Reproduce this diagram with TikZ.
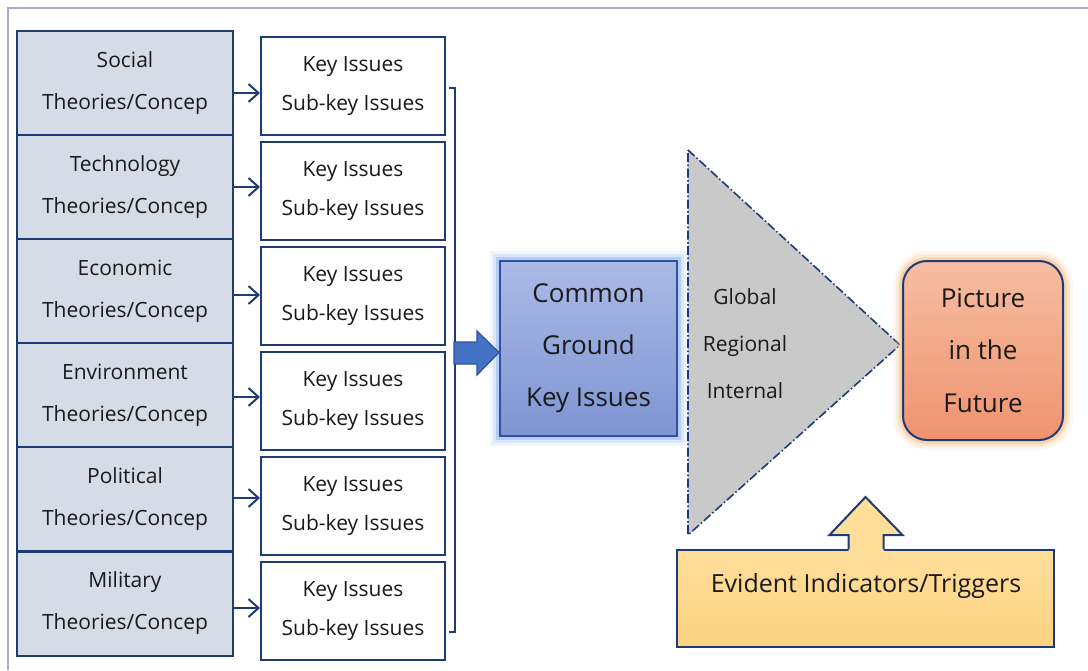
\documentclass[tikz,border=0pt]{standalone}
\usepackage{fontspec}
\setmainfont{Open Sans}
\usetikzlibrary{arrows.meta}
\definecolor{navy}{HTML}{1F3B76}
\definecolor{txt}{HTML}{1A1A1A}
\definecolor{theoryfill}{HTML}{D6DCE5}
\definecolor{frame}{HTML}{B7A3CF}
\definecolor{cgtop}{HTML}{ABBAE6}
\definecolor{cgbot}{HTML}{7E95D3}
\definecolor{cgborder}{HTML}{2F52A0}
\definecolor{cgglow}{HTML}{8FAEF5}
\definecolor{pictop}{HTML}{F7BDA2}
\definecolor{picbot}{HTML}{EF936F}
\definecolor{picglow}{HTML}{F9BC80}
\definecolor{evtop}{HTML}{FFDE9A}
\definecolor{evbot}{HTML}{FDD282}
\definecolor{trifill}{HTML}{C9C9C9}
\definecolor{bigarrow}{HTML}{4472C4}
\begin{document}
\begin{tikzpicture}[x=1pt,y=-1pt,
  theory/.style={draw=navy, line width=2pt, fill=theoryfill, minimum width=216pt,
    minimum height=104pt, inner sep=0pt, align=center, text=txt,
    font=\fontsize{21}{42}\selectfont},
  keybox/.style={draw=navy, line width=2pt, fill=white, minimum width=184pt,
    minimum height=98pt, inner sep=0pt, align=center, text=txt,
    font=\fontsize{21}{39}\selectfont},
  arr/.style={draw=navy, line width=2pt, -{Straight Barb[length=10pt,width=18pt,line width=2pt]}},
  cgbox/.style={draw=cgborder, line width=2pt, top color=cgtop, bottom color=cgbot,
    minimum width=177pt, minimum height=175pt, inner sep=0pt, align=center, text=txt,
    font=\fontsize{26}{52}\selectfont,
    preaction={draw=cgglow, line width=20pt, opacity=0.12},
    preaction={draw=cgglow, line width=14pt, opacity=0.22},
    preaction={draw=cgglow, line width=8pt, opacity=0.45}},
  picbox/.style={draw=navy, line width=2pt, top color=pictop, bottom color=picbot,
    rounded corners=24pt, minimum width=160pt, minimum height=179pt, inner sep=0pt,
    align=center, text=txt, font=\fontsize{26}{52.5}\selectfont,
    preaction={draw=picglow, line width=20pt, opacity=0.12},
    preaction={draw=picglow, line width=14pt, opacity=0.22},
    preaction={draw=picglow, line width=8pt, opacity=0.45}},
  tritext/.style={align=center, text=txt, font=\fontsize{21}{47}\selectfont},
]
\useasboundingbox (0,0) rectangle (1088,670);
\fill[white] (0,0) rectangle (1088,670);
% outer frame
\draw[frame, line width=2pt] (8,670) -- (8,8) -- (1088,8);

% theory boxes
\node[theory] (L1) at (125,83)    {Social\\Theories/Concep};
\node[theory] (L2) at (125,187)   {Technology\\Theories/Concep};
\node[theory] (L3) at (125,291)   {Economic\\Theories/Concep};
\node[theory] (L4) at (125,395)   {Environment\\Theories/Concep};
\node[theory] (L5) at (125,499)   {Political\\Theories/Concep};
\node[theory] (L6) at (125,603.5) {Military\\Theories/Concep};

% key issue boxes
\node[keybox] (K1) at (353,86)  {Key Issues\\Sub-key Issues};
\node[keybox] (K2) at (353,191) {Key Issues\\Sub-key Issues};
\node[keybox] (K3) at (353,296) {Key Issues\\Sub-key Issues};
\node[keybox] (K4) at (353,401) {Key Issues\\Sub-key Issues};
\node[keybox] (K5) at (353,506) {Key Issues\\Sub-key Issues};
\node[keybox] (K6) at (353,611) {Key Issues\\Sub-key Issues};

% arrows theory -> key
\draw[arr] ([yshift=-10pt]L1.east) -- ([yshift=-10pt]L1.east -| K1.west);
\draw[arr] ([yshift=0pt]L2.east) -- ([yshift=0pt]L2.east -| K2.west);
\draw[arr] ([yshift=-4pt]L3.east) -- ([yshift=-4pt]L3.east -| K3.west);
\draw[arr] ([yshift=-2pt]L4.east) -- ([yshift=-2pt]L4.east -| K4.west);
\draw[arr] ([yshift=1pt]L5.east) -- ([yshift=1pt]L5.east -| K5.west);
\draw[arr] ([yshift=-4.5pt]L6.east) -- ([yshift=-4.5pt]L6.east -| K6.west);

% bracket
\draw[navy, line width=1.8pt] (449,88) -- (455,88) -- (455,632) -- (449,632);

% common ground
\node[cgbox] (CG) at (588.5,348.5) {Common\\Ground\\Key Issues};

% big arrow
\draw[fill=bigarrow, draw=cgborder, line width=1.2pt]
  (454,342) -- (477,342) -- (477,331) -- ([yshift=-4pt]CG.west) -- (477,375) -- (477,364) -- (454,364) -- cycle;

% triangle
\coordinate (T1) at (688,150);
\coordinate (T2) at (688,535);
\coordinate (Tapex) at (900,345);
\draw[fill=trifill, draw=navy, line width=1.6pt, dash pattern=on 9pt off 2.5pt on 1.5pt off 2.5pt]
  (T1) -- (Tapex) -- (T2) -- cycle;
\node[tritext] (TT) at (745,344) {Global\\Regional\\Internal};

% picture box
\node[picbox] (PF) at (983,350.5) {Picture\\in the\\Future};

% evident box
\node[draw=navy, line width=2pt, top color=evtop, bottom color=evbot,
  minimum width=377pt, minimum height=97pt, inner sep=0pt] (EV) at (865.5,598.5) {};
\fill[evtop] ([xshift=-17pt,yshift=-2pt]EV.north) -- ([xshift=-17pt,yshift=14pt]EV.north)
  -- ([xshift=-36pt,yshift=14pt]EV.north) -- ([yshift=52pt]EV.north)
  -- ([xshift=37pt,yshift=14pt]EV.north) -- ([xshift=18pt,yshift=14pt]EV.north)
  -- ([xshift=18pt,yshift=-2pt]EV.north) -- cycle;
\draw[navy, line width=2pt, line join=miter]
  ([xshift=-17pt]EV.north) -- ([xshift=-17pt,yshift=14pt]EV.north)
  -- ([xshift=-36pt,yshift=14pt]EV.north) -- ([yshift=52pt]EV.north)
  -- ([xshift=37pt,yshift=14pt]EV.north) -- ([xshift=18pt,yshift=14pt]EV.north)
  -- ([xshift=18pt]EV.north);
\node[text=txt, font=\fontsize{25}{30}\selectfont] (EVt) at (866,586) {Evident Indicators/Triggers};
\end{tikzpicture}
\end{document}
